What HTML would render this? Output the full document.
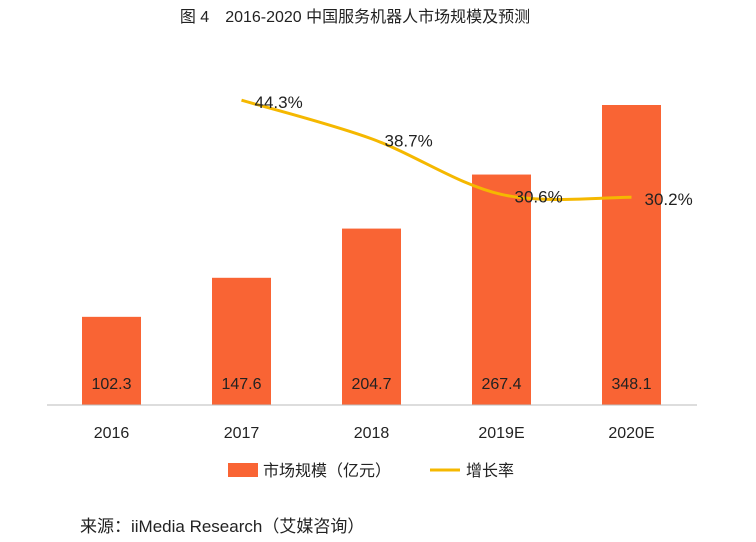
<!DOCTYPE html>
<html><head><meta charset="utf-8"><style>
body{margin:0;background:#fff;}
svg{display:block;font-family:"Liberation Sans","Noto Sans CJK SC",sans-serif;}
</style></head><body>
<svg id="chart" width="756" height="542" viewBox="0 0 756 542">
<text x="355" y="22" text-anchor="middle" font-size="16" fill="#222">图 4　2016-2020 中国服务机器人市场规模及预测</text>
<g id="bars"></g>
<line x1="47" y1="405" x2="697" y2="405" stroke="#bbb" stroke-width="1"/>
<g id="xlabels"></g>
<path id="line" fill="none" stroke="#F5B800" stroke-width="3"/>
<g id="plabels"></g>
<g>
<rect x="228" y="463" width="30" height="14" fill="#F96434"/>
<text x="263" y="476" font-size="16" fill="#222">市场规模（亿元）</text>
<line x1="430" y1="470" x2="460" y2="470" stroke="#F5B800" stroke-width="3"/>
<text x="466" y="476" font-size="16" fill="#222">增长率</text>
</g>
<text x="80" y="532" font-size="17" fill="#222">来源：iiMedia Research（艾媒咨询）</text>
</svg>
<script>
const categories=["2016","2017","2018","2019E","2020E"];
const marketSize=[102.3,147.6,204.7,267.4,348.1];
const growthCats=["2017","2018","2019E","2020E"];
const growthRate=[44.3,38.7,30.6,30.2];
const NS="http://www.w3.org/2000/svg";
const base=405, bw=59;
const xC=i=>111.5+i*130;
const yBar=v=>base-v*300/348.1;
const yLine=v=>base-v*6.88;
const bars=document.getElementById('bars'),xl=document.getElementById('xlabels'),pl=document.getElementById('plabels');
function mk(t,a,txt){const e=document.createElementNS(NS,t);for(const k in a)e.setAttribute(k,a[k]);if(txt!=null)e.textContent=txt;return e;}
categories.forEach((c,i)=>{
 const r=mk('rect',{x:xC(i)-bw/2,y:yBar(marketSize[i]),width:bw,height:base-yBar(marketSize[i]),fill:'#F96434'});
 
 
 bars.appendChild(r);
 const t=mk('text',{x:xC(i),y:389,'text-anchor':'middle','font-size':16,fill:'#222'},marketSize[i].toFixed(1));
 
 
 bars.appendChild(t);
 const x=mk('text',{x:xC(i),y:438,'text-anchor':'middle','font-size':16,fill:'#222'},c);
 
 
 xl.appendChild(x);
});
const pts=growthCats.map((c,i)=>[xC(categories.indexOf(c)),yLine(growthRate[i])]);
let d='M'+pts[0][0]+','+pts[0][1];
for(let i=0;i<pts.length-1;i++){
 const p0=pts[i-1]||pts[i],p1=pts[i],p2=pts[i+1],p3=pts[i+2]||p2;
 const c1=[p1[0]+(p2[0]-p0[0])/6,p1[1]+(p2[1]-p0[1])/6],c2=[p2[0]-(p3[0]-p1[0])/6,p2[1]-(p3[1]-p1[1])/6];
 d+=' C'+c1+' '+c2+' '+p2;
}
document.getElementById('line').setAttribute('d',d);
growthCats.forEach((c,i)=>{
 const t=mk('text',{x:pts[i][0]+13,y:pts[i][1]+8,'font-size':17,fill:'#222'},growthRate[i].toFixed(1)+'%');
 
 
 pl.appendChild(t);
});
</script>
</body></html>
